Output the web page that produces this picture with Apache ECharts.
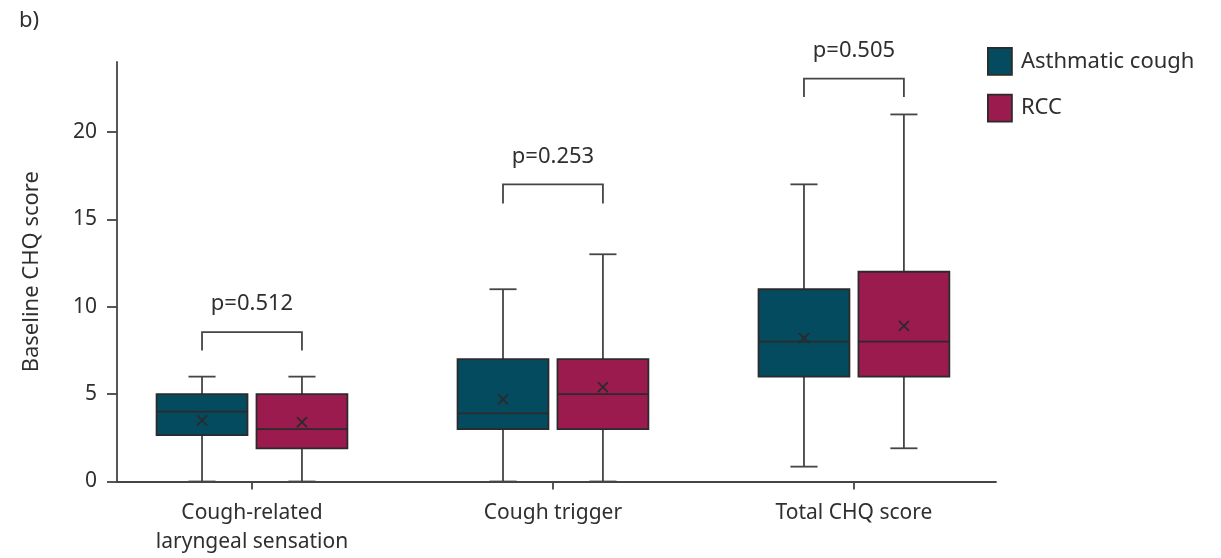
<!DOCTYPE html>
<html>
<head>
<meta charset="utf-8">
<script src="https://cdn.jsdelivr.net/npm/echarts@6/dist/echarts.min.js"></script>
<style>
  html, body { margin: 0; padding: 0; background: #ffffff; }
  #chart { width: 1221px; height: 558px; }
</style>
</head>
<body>
<div id="chart"></div>
<script>
// Baseline CHQ scores by domain and group
const categories = ['Cough-related\nlaryngeal sensation', 'Cough trigger', 'Total CHQ score'];
// each row: [min, Q1, median, Q3, max]
const asthmaticBox = [
  [0, 2.65, 4, 5, 6],
  [0, 3, 3.9, 7, 11],
  [0.85, 6, 8, 11, 17]
];
const asthmaticMean = [3.5, 4.7, 8.2];
const rccBox = [
  [0, 1.9, 3, 5, 6],
  [0, 3, 5, 7, 13],
  [1.9, 6, 8, 12, 21]
];
const rccMean = [3.4, 5.4, 8.9];
const pLabels = ['p=0.512', 'p=0.253', 'p=0.505'];
// comparison bracket: level of the bar and of its feet
const bracketTop = [8.55, 17, 23.05];
const bracketFoot = [7.5, 15.9, 22];
const yTicks = [0, 5, 10, 15, 20];
const seriesNames = ['Asthmatic cough', 'RCC'];

const FONT = '"Noto Sans", sans-serif';
const TEXT = '#2f2f2f';
const AXIS = '#454545';
const OUTLINE = '#2b2b2b';
const LW = 1.8;

// box geometry in x-axis units (one unit per domain)
const OFFSET = 0.166;
const BOX_W = 0.302;
const CAP_W = 0.09;

function boxRenderer(offset) {
  return function (params, api) {
    const x = api.value(0) + offset;
    const lo = api.value(1), q1 = api.value(2), med = api.value(3),
          q3 = api.value(4), hi = api.value(5), mean = api.value(6);
    const xl = api.coord([x - BOX_W / 2, 0])[0];
    const xr = api.coord([x + BOX_W / 2, 0])[0];
    const xc = api.coord([x, 0])[0];
    const cl = api.coord([x - CAP_W / 2, 0])[0];
    const cr = api.coord([x + CAP_W / 2, 0])[0];
    const yLo = api.coord([x, lo])[1];
    const yQ1 = api.coord([x, q1])[1];
    const yMed = api.coord([x, med])[1];
    const yQ3 = api.coord([x, q3])[1];
    const yHi = api.coord([x, hi])[1];
    const yMean = api.coord([x, mean])[1];
    const color = api.visual('color');
    const ws = { stroke: AXIS, lineWidth: LW };
    const m = 5;
    return {
      type: 'group',
      children: [
        { type: 'line', shape: { x1: xc, y1: yHi, x2: xc, y2: yQ3 }, style: ws },
        { type: 'line', shape: { x1: xc, y1: yQ1, x2: xc, y2: yLo }, style: ws },
        { type: 'line', shape: { x1: cl, y1: yHi, x2: cr, y2: yHi }, style: ws },
        { type: 'line', shape: { x1: cl, y1: yLo, x2: cr, y2: yLo }, style: ws },
        { type: 'rect', shape: { x: xl, y: yQ3, width: xr - xl, height: yQ1 - yQ3 },
          style: { fill: color, stroke: OUTLINE, lineWidth: LW } },
        { type: 'line', shape: { x1: xl, y1: yMed, x2: xr, y2: yMed },
          style: { stroke: OUTLINE, lineWidth: LW } },
        { type: 'line', shape: { x1: xc - m, y1: yMean - m, x2: xc + m, y2: yMean + m },
          style: { stroke: OUTLINE, lineWidth: 1.8 } },
        { type: 'line', shape: { x1: xc - m, y1: yMean + m, x2: xc + m, y2: yMean - m },
          style: { stroke: OUTLINE, lineWidth: 1.8 } }
      ]
    };
  };
}

function bracketRenderer(params, api) {
  const x = api.value(0);
  const xa = api.coord([x - OFFSET, 0])[0];
  const xb = api.coord([x + OFFSET, 0])[0];
  const xm = api.coord([x, 0])[0];
  const yTop = api.coord([x, api.value(1)])[1];
  const yFoot = api.coord([x, api.value(2)])[1];
  return {
    type: 'group',
    children: [
      { type: 'polyline',
        shape: { points: [[xa, yFoot], [xa, yTop], [xb, yTop], [xb, yFoot]] },
        style: { stroke: AXIS, lineWidth: LW, fill: null } },
      { type: 'text',
        style: { text: pLabels[params.dataIndex], x: xm, y: yTop - 28,
                 align: 'center', verticalAlign: 'middle',
                 fill: TEXT, font: '22px ' + FONT } }
    ]
  };
}

const asthmaticData = categories.map((c, i) => [i + 1, ...asthmaticBox[i], asthmaticMean[i]]);
const rccData = categories.map((c, i) => [i + 1, ...rccBox[i], rccMean[i]]);
const bracketData = categories.map((c, i) => [i + 1, bracketTop[i], bracketFoot[i]]);

const chart = echarts.init(document.getElementById('chart'), null, { renderer: 'canvas' });
chart.setOption({
  animation: false,
  backgroundColor: '#ffffff',
  textStyle: { fontFamily: FONT },
  title: {
    text: 'b)', left: 14, top: 5,
    textStyle: { fontSize: 22, fontWeight: 'normal', color: TEXT, fontFamily: FONT }
  },
  legend: {
    data: seriesNames,
    orient: 'vertical',
    left: 987, top: 47,
    padding: 0,
    itemWidth: 24, itemHeight: 27, itemGap: 18,
    icon: 'rect',
    itemStyle: { borderColor: OUTLINE, borderWidth: LW },
    textStyle: { fontSize: 22, color: TEXT, fontFamily: FONT, padding: [0, 0, 0, 4] },
    selectedMode: false
  },
  grid: { left: 117, right: 225, top: 62, bottom: 76.5, containLabel: false, outerBoundsMode: 'none' },
  xAxis: {
    type: 'value',
    min: 0.5515, max: 3.472,
    axisLine: { show: true, onZero: false, lineStyle: { color: AXIS, width: LW } },
    axisTick: { show: true, customValues: [1, 2, 3], length: 8, lineStyle: { color: AXIS, width: LW } },
    axisLabel: {
      customValues: [1, 2, 3],
      formatter: v => categories[Math.round(v) - 1],
      margin: 17, fontSize: 21, lineHeight: 29, color: TEXT, fontFamily: FONT
    },
    splitLine: { show: false }
  },
  yAxis: {
    type: 'value',
    min: 0, max: 24,
    name: 'Baseline CHQ score',
    nameLocation: 'middle', nameGap: 74,
    nameTextStyle: { fontSize: 22, color: TEXT, fontFamily: FONT },
    axisLine: { show: true, onZero: false, lineStyle: { color: AXIS, width: LW } },
    axisTick: { show: true, customValues: yTicks, length: 10, lineStyle: { color: AXIS, width: LW } },
    axisLabel: { customValues: yTicks, margin: 20, fontSize: 21, color: TEXT, fontFamily: FONT },
    splitLine: { show: false }
  },
  series: [
    {
      name: seriesNames[0], type: 'custom',
      itemStyle: { color: '#054b5f' },
      encode: { x: 0, y: [1, 2, 3, 4, 5] },
      renderItem: boxRenderer(-OFFSET),
      data: asthmaticData
    },
    {
      name: seriesNames[1], type: 'custom',
      itemStyle: { color: '#9c1b4e' },
      encode: { x: 0, y: [1, 2, 3, 4, 5] },
      renderItem: boxRenderer(OFFSET),
      data: rccData
    },
    {
      name: 'brackets', type: 'custom',
      encode: { x: 0, y: [1, 2] },
      renderItem: bracketRenderer,
      data: bracketData,
      silent: true
    }
  ]
});
</script>
</body>
</html>
